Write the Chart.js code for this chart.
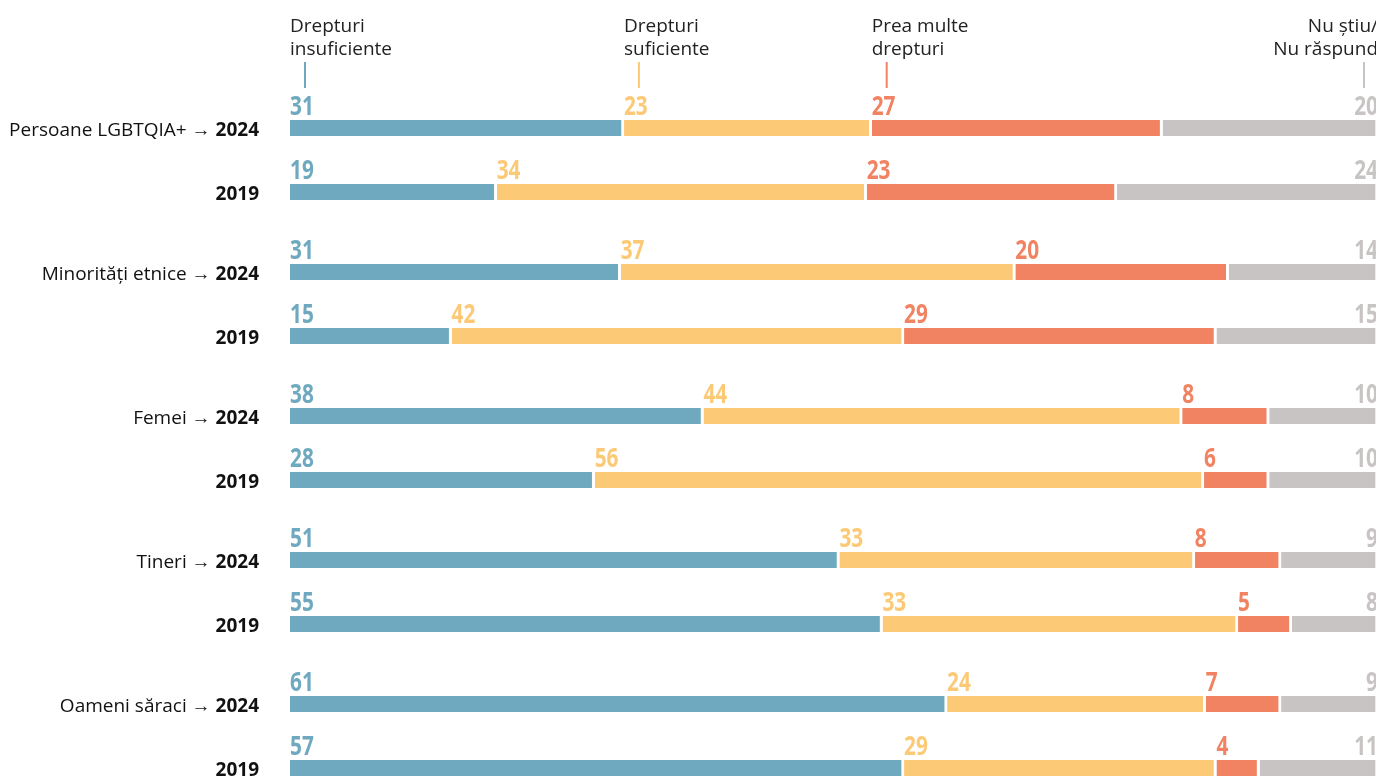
<!DOCTYPE html>
<html>
<head>
<meta charset="utf-8">
<script src="https://cdn.jsdelivr.net/npm/chart.js@4"></script>
<style>
  html, body { margin: 0; padding: 0; background: #fff; overflow: hidden; }
  #chart { display: block; }
</style>
</head>
<body>
<canvas id="chart" width="1380" height="778"></canvas>
<script>
// date
const groups = ["Persoane LGBTQIA+", "Minorități etnice", "Femei", "Tineri", "Oameni săraci"];
const years = ["2024", "2019"];
const seriesNames = [["Drepturi", "insuficiente"], ["Drepturi", "suficiente"], ["Prea multe", "drepturi"], ["Nu știu/", "Nu răspund"]];
const insuficiente = [31, 19, 31, 15, 38, 28, 51, 55, 61, 57];
const suficiente = [23, 34, 37, 42, 44, 56, 33, 33, 24, 29];
const preaMulte = [27, 23, 20, 29, 8, 6, 8, 5, 7, 4];
const nuStiu = [20, 24, 14, 15, 10, 10, 9, 8, 9, 11];

const colors = ["#6fa9c0", "#fcc977", "#f18363", "#c8c4c4"];
const series = [insuficiente, suficiente, preaMulte, nuStiu];
const totals = insuficiente.map((_, i) => series.reduce((s, arr) => s + arr[i], 0));

// pozitia randurilor: 2024 si 2019 apropiate, spatiu mai mare intre grupuri
const rowPos = insuficiente.map((_, i) => Math.floor(i / 2) * 9 + (i % 2) * 4);

const FONT = "'Open Sans', sans-serif";

const labelsPlugin = {
  id: "labels",
  afterDatasetsDraw(chart) {
    const ctx = chart.ctx;
    ctx.save();
    ctx.textBaseline = "alphabetic";

    // valori deasupra segmentelor (font ingust)
    chart.data.datasets.forEach((ds, d) => {
      const meta = chart.getDatasetMeta(d);
      meta.data.forEach((el, i) => {
        const top = el.y - el.height / 2;
        ctx.save();
        ctx.translate(d < 3 ? el.base : el.x, top - 5);
        ctx.scale(0.8, 1);
        ctx.font = "bold 26px " + FONT;
        ctx.fillStyle = colors[d];
        ctx.textAlign = d < 3 ? "left" : "right";
        ctx.fillText(series[d][i], 0, 0);
        ctx.restore();
      });
    });

    // etichete stanga
    const meta0 = chart.getDatasetMeta(0);
    meta0.data.forEach((el, i) => {
      const y = el.y + 8;
      const right = 259;
      ctx.textAlign = "right";
      ctx.fillStyle = "#111";
      ctx.font = "bold 19px " + FONT;
      const yr = years[i % 2];
      ctx.fillText(yr, right, y);
      if (i % 2 === 0) {
        const w = ctx.measureText(yr).width;
        ctx.font = "19px " + FONT;
        ctx.fillText(groups[Math.floor(i / 2)] + " → ", right - w, y);
      }
    });

    // antet cu liniute
    chart.data.datasets.forEach((ds, d) => {
      const el = chart.getDatasetMeta(d).data[0];
      ctx.font = "19px " + FONT;
      ctx.fillStyle = "#222";
      let tx, lx;
      if (d < 3) {
        ctx.textAlign = "left";
        tx = el.base;
        lx = el.base + 15;
      } else {
        ctx.textAlign = "right";
        tx = el.x;
        lx = el.x - 14;
      }
      ctx.fillText(seriesNames[d][0], tx, 32);
      ctx.fillText(seriesNames[d][1], tx, 55);
      ctx.strokeStyle = colors[d];
      ctx.lineWidth = 2;
      ctx.beginPath();
      ctx.moveTo(lx, 62);
      ctx.lineTo(lx, 88);
      ctx.stroke();
    });
    ctx.restore();
  }
};

new Chart(document.getElementById("chart"), {
  type: "bar",
  data: {
    datasets: series.map((arr, d) => ({
      label: seriesNames[d].join(" "),
      data: arr.map((v, i) => ({ x: v / totals[i] * 100, y: rowPos[i] })),
      backgroundColor: colors[d],
      borderColor: "#fff",
      borderWidth: { top: 0, bottom: 0, left: 0, right: 3 },
      borderSkipped: false,
      barThickness: 16
    }))
  },
  options: {
    indexAxis: "y",
    responsive: false,
    animation: false,
    layout: { padding: { left: 290, right: 2, top: 0, bottom: 0 } },
    plugins: { legend: { display: false }, tooltip: { enabled: false } },
    scales: {
      x: { stacked: true, min: 0, max: 100, display: false },
      y: { type: "linear", stacked: true, reverse: true, offset: false, min: -8, max: 40.625, display: false }
    }
  },
  plugins: [labelsPlugin]
});
</script>
</body>
</html>
